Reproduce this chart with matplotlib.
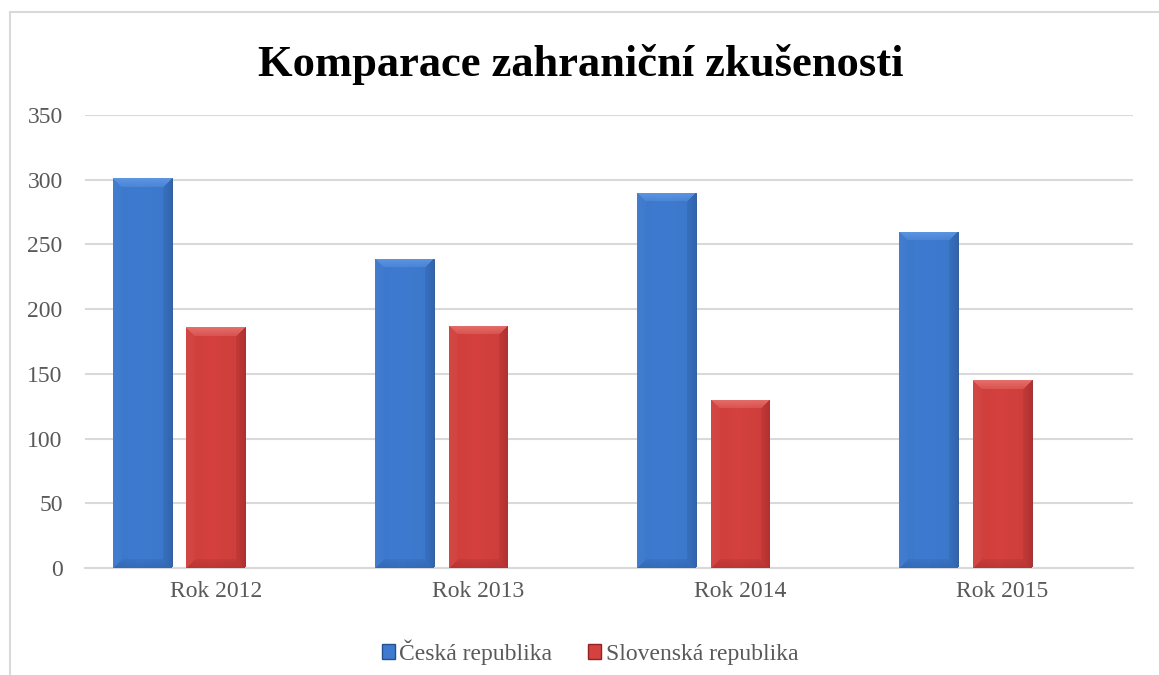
import numpy as np
import matplotlib.pyplot as plt
from matplotlib.patches import Patch
from matplotlib.lines import Line2D
from matplotlib.colors import to_rgb

# Data
categories = ['Rok 2012', 'Rok 2013', 'Rok 2014', 'Rok 2015']
ceska = [301, 239, 290, 260]
slovenska = [186, 187, 130, 145]
series_names = ['Česká republika', 'Slovenská republika']
yticks = [0, 50, 100, 150, 200, 250, 300, 350]

plt.rcParams['font.family'] = ['Liberation Serif', 'DejaVu Serif']

GRID = '#D9D9D9'
TEXT = '#595959'
BLUE = ('#3E7BD0', '#5E96E2', '#24508E')
RED = ('#D4413E', '#E5706C', '#8E2323')


def bevel_bar(ax, rect, base, light, dark, bev=9):
    """Fill a bar with a soft bevel look (light top, darker sides)."""
    x0, y0 = rect.get_x(), rect.get_y()
    w, h = rect.get_width(), rect.get_height()
    px0, py0 = ax.transData.transform((x0, y0))
    px1, py1 = ax.transData.transform((x0 + w, y0 + h))
    wp = max(int(round(px1 - px0)), 2)
    hp = max(int(round(py1 - py0)), 2)

    base, light, dark = np.array(to_rgb(base)), np.array(to_rgb(light)), np.array(to_rgb(dark))
    jj, ii = np.meshgrid(np.arange(wp) + 0.5, np.arange(hp) + 0.5)
    dl, dr, dt, db = jj, wp - jj, ii, hp - ii
    m = np.minimum(np.minimum(dl, dr), np.minimum(dt, db))

    img = np.ones((hp, wp, 3)) * base
    # gentle shading across the face
    t = np.abs(jj / wp - 0.45)[..., None]
    img = img * (1 - 0.2 * t) + dark * 0.2 * t

    edge = m < bev
    ramp = (1 - m / bev)[..., None] * 0.6 + 0.4
    top = edge & (dt == m)
    left = edge & (dl == m) & ~top
    right = edge & (dr == m) & ~top
    bottom = edge & (db == m) & ~top & ~left & ~right
    mixes = [(top, light, 1.0), (left, light, 0.2), (right, dark, 0.45), (bottom, dark, 0.35)]
    for mask, col, k in mixes:
        a = (ramp * k)[mask]
        img[mask] = img[mask] * (1 - a) + col * a

    im = ax.imshow(img, extent=(x0, x0 + w, y0, y0 + h), origin='upper',
                   aspect='auto', zorder=3, interpolation='bilinear')
    im.set_clip_path(rect)


fig = plt.figure(figsize=(11.59, 6.75), dpi=100)
ax = fig.add_axes([0.0733, 0.1585, 0.9043, 0.6711])

x = np.arange(len(categories))
width = 0.225
ax.set_xlim(-0.5, len(categories) - 0.5)
ax.set_ylim(0, 350)

bars_cz = ax.bar(x - 0.28, ceska, width, color=BLUE[0], edgecolor=BLUE[2],
                 linewidth=0.6, zorder=2)
bars_sk = ax.bar(x, slovenska, width, color=RED[0], edgecolor=RED[2],
                 linewidth=0.6, zorder=2)
for r in bars_cz:
    bevel_bar(ax, r, *BLUE)
for r in bars_sk:
    bevel_bar(ax, r, *RED)

ax.set_yticks(yticks)
ax.set_xticks(x)
ax.set_xticklabels(categories)
ax.tick_params(axis='both', length=0, labelsize=17, colors=TEXT)
ax.tick_params(axis='y', pad=16)
ax.tick_params(axis='x', pad=9)
ax.yaxis.grid(True, color=GRID, linewidth=1.5)
ax.set_axisbelow(True)
for side in ['top', 'right', 'left']:
    ax.spines[side].set_visible(False)
ax.spines['bottom'].set_color(GRID)
ax.spines['bottom'].set_linewidth(1.5)

fig.text(0.501, 0.904, 'Komparace zahraniční zkušenosti', ha='center', va='center',
         fontsize=32, fontweight='bold', color='black')

handles = [Patch(facecolor=BLUE[0], edgecolor=BLUE[2], label=series_names[0]),
           Patch(facecolor=RED[0], edgecolor=RED[2], label=series_names[1])]
fig.legend(handles=handles, loc='center', bbox_to_anchor=(0.509, 0.034), ncol=2,
           frameon=False, fontsize=17, labelcolor=TEXT, handlelength=0.55,
           handleheight=0.55, handletextpad=0.2, columnspacing=1.5)

# chart frame (left and top edges visible)
fig.add_artist(Line2D([10 / 1159, 10 / 1159], [0, 1 - 12 / 675], color=GRID, linewidth=1.5))
fig.add_artist(Line2D([10 / 1159, 1], [1 - 12 / 675, 1 - 12 / 675], color=GRID, linewidth=1.5))

fig.savefig('out.png', dpi=100, facecolor='white')
